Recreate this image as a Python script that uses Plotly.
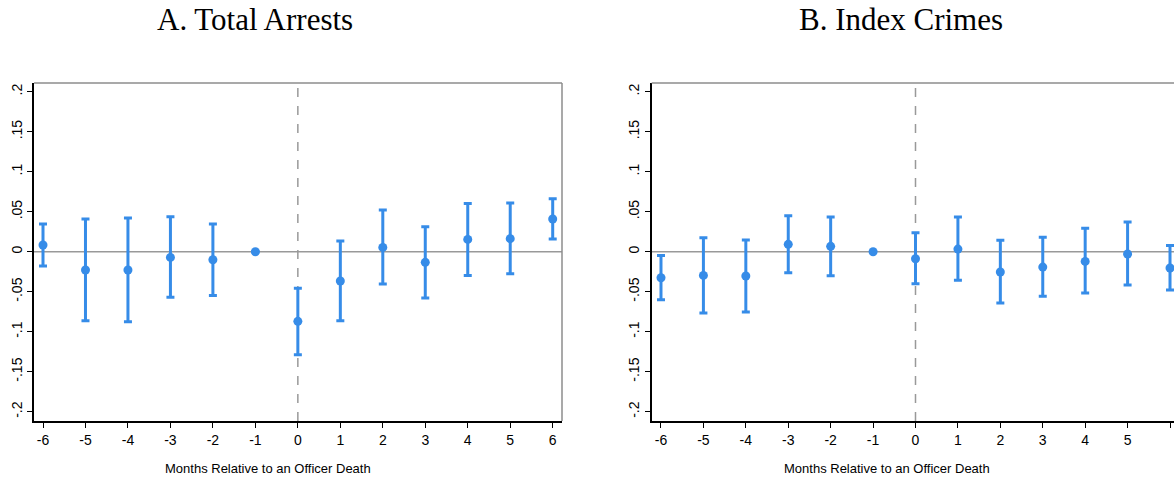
import plotly.graph_objects as go

months = [-6, -5, -4, -3, -2, -1, 0, 1, 2, 3, 4, 5, 6]
xticktext = ["-6", "-5", "-4", "-3", "-2", "-1", "0", "1", "2", "3", "4", "5", "6"]

# Panel A: Total Arrests
a_est = [0.0084, -0.0229, -0.0229, -0.0071, -0.0100, 0.0, -0.0870, -0.0366, 0.0054, -0.0133, 0.0154, 0.0163, 0.0409]
a_hi = [0.0346, 0.0409, 0.0421, 0.0438, 0.0346, 0.0, -0.0458, 0.0134, 0.0521, 0.0313, 0.0604, 0.0609, 0.0663]
a_lo = [-0.0179, -0.0862, -0.0875, -0.0570, -0.0546, 0.0, -0.1287, -0.0862, -0.0404, -0.0579, -0.0296, -0.0275, 0.0159]

# Panel B: Index Crimes
b_est = [-0.0325, -0.0296, -0.0304, 0.0092, 0.0067, 0.0, -0.0088, 0.0033, -0.0254, -0.0192, -0.0121, -0.0029, -0.0204]
b_hi = [-0.0046, 0.0175, 0.0146, 0.0450, 0.0433, 0.0, 0.0238, 0.0433, 0.0142, 0.0180, 0.0292, 0.0371, 0.0079]
b_lo = [-0.0600, -0.0767, -0.0754, -0.0263, -0.0300, 0.0, -0.0400, -0.0358, -0.0642, -0.0558, -0.0517, -0.0417, -0.0479]

titles = ["A. Total Arrests", "B. Index Crimes"]
xlabel = "Months Relative to an Officer Death"
ytickvals = [0.2, 0.15, 0.1, 0.05, 0, -0.05, -0.1, -0.15, -0.2]
yticktext = [".2", ".15", ".1", ".05", "0", "-.05", "-.1", "-.15", "-.2"]

W, H = 1174, 481
BLUE = "#368ce8"
FRAME = "#8c8c8c"

fig = go.Figure()

for i, (est, hi, lo) in enumerate([(a_est, a_hi, a_lo), (b_est, b_hi, b_lo)]):
    xa = "x" if i == 0 else "x2"
    ya = "y" if i == 0 else "y2"
    fig.add_trace(go.Scatter(
        x=months, y=est, mode="markers", xaxis=xa, yaxis=ya,
        marker=dict(color=BLUE, size=9),
        error_y=dict(type="data", symmetric=False,
                     array=[h - e for h, e in zip(hi, est)],
                     arrayminus=[e - l for e, l in zip(est, lo)],
                     color=BLUE, thickness=3, width=4),
        showlegend=False, cliponaxis=False, hoverinfo="skip",
    ))

dom_y = [1 - 421 / H, 1 - 83 / H]
dom_x1 = [34 / W, 562 / W]
dom_x2 = [651.7 / W, 1.0]

axis_common = dict(showgrid=False, zeroline=False, showline=True, linecolor="black",
                   linewidth=1.5, ticks="outside", ticklen=5, tickcolor="black",
                   tickfont=dict(family="Liberation Sans", size=14, color="black"))

fig.update_layout(
    width=W, height=H, margin=dict(l=0, r=0, t=0, b=0),
    paper_bgcolor="white", plot_bgcolor="white",
    xaxis=dict(domain=dom_x1, range=[-6.212, 6.219], tickvals=months, ticktext=xticktext,
               anchor="y", **axis_common),
    yaxis=dict(domain=dom_y, range=[-0.2116, 0.2109], tickvals=ytickvals, ticktext=yticktext,
               tickangle=-90, anchor="x", **axis_common),
    xaxis2=dict(domain=dom_x2, range=[-6.219, 6.094], tickvals=months, ticktext=xticktext,
                anchor="y2", **axis_common),
    yaxis2=dict(domain=dom_y, range=[-0.2116, 0.2109], tickvals=ytickvals, ticktext=yticktext,
                tickangle=-90, anchor="x2", **axis_common),
)

shapes = []
for xr, yr in [("x", "y"), ("x2", "y2")]:
    # zero line
    shapes.append(dict(type="line", xref=f"{xr} domain", yref=yr, x0=0, x1=1, y0=0, y1=0,
                       line=dict(color="#999999", width=1.5), layer="below"))
    # vertical dashed line at 0
    shapes.append(dict(type="line", xref=xr, yref=f"{yr} domain", x0=0, x1=0, y0=0, y1=1,
                       line=dict(color="#999999", width=1.5, dash="dash"), layer="below"))
    # top frame
    shapes.append(dict(type="line", xref=f"{xr} domain", yref=f"{yr} domain", x0=0, x1=1, y0=1, y1=1,
                       line=dict(color=FRAME, width=1.5)))
# right frame for panel A
shapes.append(dict(type="line", xref="x domain", yref="y domain", x0=1, x1=1, y0=0, y1=1,
                   line=dict(color=FRAME, width=1.5)))
fig.update_layout(shapes=shapes)

annotations = [
    dict(text=titles[0], x=255 / W, y=1 - 19 / H, xref="paper", yref="paper", showarrow=False,
         xanchor="center", yanchor="middle", font=dict(family="Liberation Serif", size=31, color="black")),
    dict(text=titles[1], x=901 / W, y=1 - 19 / H, xref="paper", yref="paper", showarrow=False,
         xanchor="center", yanchor="middle", font=dict(family="Liberation Serif", size=31, color="black")),
    dict(text=xlabel, x=268 / W, y=1 - 468 / H, xref="paper", yref="paper", showarrow=False,
         xanchor="center", yanchor="middle", font=dict(family="Liberation Sans", size=13, color="black")),
    dict(text=xlabel, x=887 / W, y=1 - 468 / H, xref="paper", yref="paper", showarrow=False,
         xanchor="center", yanchor="middle", font=dict(family="Liberation Sans", size=13, color="black")),
]
fig.update_layout(annotations=annotations)

fig.write_html("out.html", config={"displayModeBar": False},
               post_script="document.body.style.margin='0px';document.body.style.overflow='hidden';")
